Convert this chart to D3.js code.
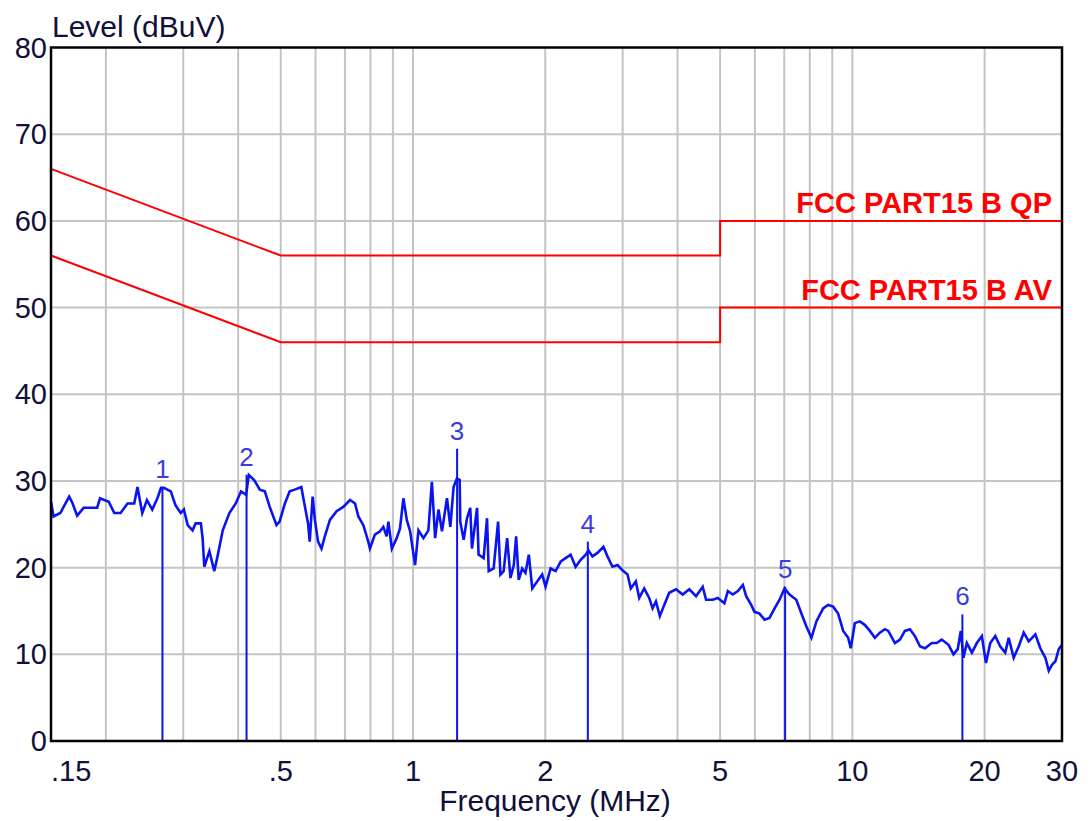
<!DOCTYPE html>
<html>
<head>
<meta charset="utf-8">
<script src="https://cdn.jsdelivr.net/npm/d3@7"></script>
<style>
  body { margin: 0; background: #fff; }
  svg { display: block; font-family: "Liberation Sans", Arial, sans-serif; }
</style>
</head>
<body>
<div id="chart"></div>
<script>
const traceFreq = [
  0.150, 0.152, 0.1575, 0.165, 0.168, 0.172, 0.178, 0.191, 0.194, 0.203,
  0.209, 0.216, 0.224, 0.232, 0.236, 0.242, 0.248, 0.255, 0.262, 0.267,
  0.271, 0.281, 0.288, 0.296, 0.301, 0.307, 0.315, 0.320, 0.329, 0.332,
  0.335, 0.344, 0.353, 0.359, 0.369, 0.382, 0.395, 0.406, 0.417, 0.423,
  0.435, 0.448, 0.460, 0.472, 0.489, 0.497, 0.511, 0.524, 0.538, 0.557,
  0.562, 0.577, 0.582, 0.591, 0.598, 0.608, 0.619, 0.630, 0.647, 0.670,
  0.694, 0.719, 0.738, 0.751, 0.771, 0.791, 0.798, 0.819, 0.841, 0.856,
  0.871, 0.879, 0.895, 0.918, 0.934, 0.951, 0.968, 0.985, 1.011, 1.029,
  1.056, 1.084, 1.104, 1.123, 1.143, 1.164, 1.195, 1.216, 1.237, 1.259,
  1.277, 1.281, 1.304, 1.327, 1.350, 1.362, 1.399, 1.410, 1.448, 1.474,
  1.487, 1.526, 1.562, 1.581, 1.608, 1.638, 1.667, 1.696, 1.717, 1.740,
  1.772, 1.803, 1.835, 1.868, 1.917, 1.968, 2.003, 2.057, 2.112, 2.168,
  2.225, 2.284, 2.345, 2.408, 2.472, 2.508, 2.561, 2.629, 2.713, 2.771,
  2.845, 2.921, 2.997, 3.078, 3.131, 3.215, 3.272, 3.359, 3.448, 3.510,
  3.572, 3.647, 3.731, 3.830, 3.968, 4.110, 4.254, 4.407, 4.565, 4.645,
  4.812, 4.940, 5.114, 5.207, 5.345, 5.487, 5.634, 5.732, 5.885, 5.987,
  6.146, 6.310, 6.478, 6.652, 6.828, 7.010, 7.196, 7.454, 7.656, 7.860,
  8.069, 8.282, 8.579, 8.807, 9.041, 9.282, 9.530, 9.783, 9.917, 10.13,
  10.40, 10.67, 10.96, 11.25, 11.55, 11.86, 12.07, 12.50, 12.83, 13.17,
  13.52, 13.88, 14.26, 14.64, 15.16, 15.56, 15.97, 16.55, 16.99, 17.37,
  17.65, 17.90, 18.22, 18.71, 19.20, 19.71, 20.14, 20.60, 21.15, 21.71,
  22.28, 22.69, 23.29, 23.91, 24.55, 25.20, 26.09, 26.78, 27.50, 27.99,
  28.48, 28.98, 29.50, 30.0
];
const traceLevel = [
  27.6, 25.9, 26.3, 28.2, 27.4, 26.0, 26.9, 26.9, 28.0, 27.6,
  26.3, 26.3, 27.4, 27.4, 29.3, 26.3, 27.8, 26.7, 28.0, 29.2,
  29.2, 28.8, 27.2, 26.3, 26.7, 24.9, 24.3, 25.1, 25.1, 23.4,
  20.1, 21.9, 19.6, 21.3, 24.3, 26.3, 27.4, 28.8, 28.4, 30.7,
  30.1, 29.0, 28.8, 27.0, 24.9, 25.3, 27.4, 28.8, 29.0, 29.3,
  28.2, 25.1, 23.0, 28.2, 25.5, 23.0, 22.2, 23.6, 25.5, 26.5,
  27.0, 27.8, 27.4, 25.9, 24.9, 23.0, 22.2, 23.8, 24.2, 24.7,
  23.6, 25.3, 22.2, 23.4, 24.5, 28.0, 25.5, 24.2, 20.3, 24.3,
  23.4, 24.3, 29.9, 23.4, 26.7, 24.2, 28.0, 24.7, 29.3, 30.3,
  30.1, 25.3, 23.2, 25.7, 26.9, 22.2, 26.9, 21.5, 21.1, 25.7,
  19.6, 19.9, 25.3, 19.2, 19.6, 23.4, 18.8, 20.3, 23.6, 18.6,
  19.9, 19.4, 21.5, 17.6, 18.4, 19.2, 17.8, 19.9, 19.6, 20.7,
  21.1, 21.5, 20.1, 20.9, 21.5, 22.0, 21.3, 21.7, 22.4, 21.3,
  20.1, 20.3, 19.7, 19.2, 17.6, 18.4, 16.5, 17.6, 16.5, 15.3,
  16.1, 14.4, 15.7, 17.1, 17.5, 16.9, 17.5, 16.7, 17.8, 16.3,
  16.3, 16.5, 15.9, 17.3, 16.9, 17.3, 18.0, 16.7, 15.7, 14.9,
  14.7, 14.0, 14.2, 15.3, 16.3, 17.6, 16.9, 16.3, 14.7, 13.2,
  11.9, 13.8, 15.3, 15.7, 15.5, 14.7, 12.7, 11.9, 10.7, 13.6,
  13.8, 13.4, 12.7, 11.9, 12.5, 12.9, 12.7, 11.3, 11.7, 12.7,
  12.9, 12.1, 10.9, 10.7, 11.3, 11.3, 11.7, 11.1, 10.0, 10.6,
  12.7, 9.6, 11.3, 10.2, 11.3, 12.1, 9.0, 11.3, 12.1, 10.9,
  10.2, 11.9, 9.6, 10.9, 12.5, 11.5, 12.3, 10.7, 9.6, 8.1,
  8.8, 9.2, 10.6, 11.1
];

// Limit lines (corner points)
const qpFreq = [0.15, 0.5, 5, 5, 30];
const qpLevel = [66, 56, 56, 60, 60];
const avFreq = [0.15, 0.5, 5, 5, 30];
const avLevel = [56, 46, 46, 50, 50];

// Peak markers
const markerNo = ['1', '2', '3', '4', '5', '6'];
const markerFreq = [0.269, 0.418, 1.26, 2.50, 7.03, 17.8];
const markerLevel = [29.3, 30.7, 33.7, 23.0, 17.8, 14.6];

// Axes
const gridFreqs = [0.2, 0.3, 0.4, 0.5, 0.6, 0.7, 0.8, 0.9, 1, 2, 3, 4, 5, 6, 7, 8, 9, 10, 20];
const xTicks = [0.15, 0.5, 1, 2, 5, 10, 20, 30];
const xTickLabels = ['.15', '.5', '1', '2', '5', '10', '20', '30'];
const yTicks = [0, 10, 20, 30, 40, 50, 60, 70, 80];

const width = 1092;
const height = 821;
const plotLeft = 51, plotRight = 1062, plotTop = 47.5, plotBottom = 741;

const x = d3.scaleLog().domain([0.15, 30]).range([plotLeft, plotRight]);
const y = d3.scaleLinear().domain([0, 80]).range([plotBottom, plotTop]);

const svg = d3.select('#chart')
    .append('svg')
    .attr('width', width)
    .attr('height', height)
    .style('background', '#fff');

// Grid
svg.append('g')
    .selectAll('line')
    .data(gridFreqs)
    .enter().append('line')
    .attr('x1', d => x(d))
    .attr('x2', d => x(d))
    .attr('y1', plotTop)
    .attr('y2', plotBottom)
    .attr('stroke', '#c4c4c4')
    .attr('stroke-width', 2);

svg.append('g')
    .selectAll('line')
    .data(yTicks.slice(1, -1))
    .enter().append('line')
    .attr('x1', plotLeft)
    .attr('x2', plotRight)
    .attr('y1', d => y(d))
    .attr('y2', d => y(d))
    .attr('stroke', '#c4c4c4')
    .attr('stroke-width', 2);

// Limit lines
const limitLine = d3.line().x(d => x(d[0])).y(d => y(d[1]));
[[qpFreq, qpLevel], [avFreq, avLevel]].forEach(([f, l]) => {
    svg.append('path')
        .datum(f.map((v, i) => [v, l[i]]))
        .attr('d', limitLine)
        .attr('fill', 'none')
        .attr('stroke', '#ff0000')
        .attr('stroke-width', 2);
});

svg.append('text')
    .attr('x', 1052)
    .attr('y', y(60) - 8)
    .attr('text-anchor', 'end')
    .attr('font-size', 29)
    .attr('font-weight', 'bold')
    .attr('fill', '#ff0000')
    .text('FCC PART15 B QP');

svg.append('text')
    .attr('x', 1052)
    .attr('y', y(50) - 8)
    .attr('text-anchor', 'end')
    .attr('font-size', 29)
    .attr('font-weight', 'bold')
    .attr('fill', '#ff0000')
    .text('FCC PART15 B AV');

// Trace
const traceLine = d3.line().x(d => x(d[0])).y(d => y(d[1]));
svg.append('path')
    .datum(traceFreq.map((f, i) => [f, traceLevel[i]]))
    .attr('d', traceLine)
    .attr('fill', 'none')
    .attr('stroke', '#0a14f0')
    .attr('stroke-width', 2.6)
    .attr('stroke-linejoin', 'miter');

// Markers
const markers = markerFreq.map((f, i) => ({ f: f, lv: markerLevel[i], no: markerNo[i] }));
svg.append('g')
    .selectAll('line')
    .data(markers)
    .enter().append('line')
    .attr('x1', d => x(d.f))
    .attr('x2', d => x(d.f))
    .attr('y1', plotBottom)
    .attr('y2', d => y(d.lv))
    .attr('stroke', '#0a14f0')
    .attr('stroke-width', 2);

svg.append('g')
    .selectAll('text')
    .data(markers)
    .enter().append('text')
    .attr('x', d => x(d.f))
    .attr('y', d => y(d.lv) - 9)
    .attr('text-anchor', 'middle')
    .attr('font-size', 26)
    .attr('fill', '#3c3cdc')
    .text(d => d.no);

// Frame
svg.append('rect')
    .attr('x', plotLeft)
    .attr('y', plotTop)
    .attr('width', plotRight - plotLeft)
    .attr('height', plotBottom - plotTop)
    .attr('fill', 'none')
    .attr('stroke', '#000')
    .attr('stroke-width', 2.5);

// Tick labels
svg.append('g')
    .selectAll('text')
    .data(yTicks)
    .enter().append('text')
    .attr('x', plotLeft - 4)
    .attr('y', d => y(d))
    .attr('dy', '0.35em')
    .attr('text-anchor', 'end')
    .attr('font-size', 29)
    .attr('fill', '#10103a')
    .text(d => d);

svg.append('g')
    .selectAll('text')
    .data(xTicks)
    .enter().append('text')
    .attr('x', d => x(d))
    .attr('y', 781)
    .attr('text-anchor', (d, i) => i === 0 ? 'start' : 'middle')
    .attr('font-size', 29)
    .attr('fill', '#10103a')
    .text((d, i) => xTickLabels[i]);

// Axis titles
svg.append('text')
    .attr('x', 52)
    .attr('y', 37)
    .attr('font-size', 30)
    .attr('fill', '#10103a')
    .text('Level (dBuV)');

svg.append('text')
    .attr('x', 555)
    .attr('y', 811)
    .attr('text-anchor', 'middle')
    .attr('font-size', 30)
    .attr('fill', '#10103a')
    .text('Frequency (MHz)');
</script>
</body>
</html>
